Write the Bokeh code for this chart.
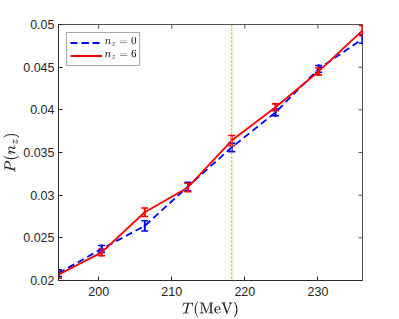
import math
from bokeh.plotting import figure
from bokeh.models import (ColumnDataSource, Whisker, TeeHead, Span, Range1d, FixedTicker,
                          Legend, LegendItem, Label, TeX)
from bokeh.embed import file_html
from bokeh.resources import INLINE

# ---- data ----
T = [194.5, 200.4, 206.3, 212.2, 218.2, 224.2, 230.1, 236.1]
P_n0 = [0.02085, 0.0237, 0.0264, 0.0310, 0.0356, 0.0397, 0.0448, 0.0483]
E_n0 = [0.0004, 0.0004, 0.0006, 0.0005, 0.0005, 0.0004, 0.0004, 0.0005]
P_n6 = [0.02067, 0.0233, 0.0280, 0.0309, 0.0364, 0.0403, 0.0445, 0.0493]
E_n6 = [0.0004, 0.0004, 0.0005, 0.0005, 0.0006, 0.0004, 0.0004, 0.0006]
T_mark = 218.2
x_ticks = [200, 210, 220, 230]
y_ticks = [0.02, 0.025, 0.03, 0.035, 0.04, 0.045, 0.05]
y_tick_labels = ["0.02", "0.025", "0.03", "0.035", "0.04", "0.045", "0.05"]
x_range = (194.5, 236.1)
y_range = (0.02, 0.05)
legend_labels = [r"n_z=0", r"n_z=6"]

BLUE = "#0000FF"
RED = "#FF0000"
AX = "#262626"
FW, FH = 304, 256
TICK = 4

p = figure(frame_width=FW, frame_height=FH, output_backend="svg", toolbar_location=None,
           x_range=Range1d(*x_range), y_range=Range1d(*y_range),
           min_border_left=49, min_border_right=30, min_border_top=24, min_border_bottom=31)
p.background_fill_color = "white"
p.border_fill_color = "white"
p.grid.visible = False
p.outline_line_color = AX
p.outline_line_width = 0.8

for ax in (p.xaxis, p.yaxis):
    ax.axis_line_color = AX
    ax.axis_line_width = 0.8
    ax.major_tick_line_color = AX
    ax.major_tick_in = TICK
    ax.major_tick_out = 0
    ax.minor_tick_line_color = None
    ax.major_label_text_font = "Liberation Sans"
    ax.major_label_text_font_size = "12.5px"
    ax.major_label_text_color = AX
    ax.axis_label_text_font_size = "12px"
    ax.axis_label_text_color = AX
    ax.axis_label_text_font_style = "normal"

p.xaxis.ticker = FixedTicker(ticks=x_ticks)
p.yaxis.ticker = FixedTicker(ticks=y_ticks)
p.yaxis.major_label_overrides = {t: s for t, s in zip(y_ticks, y_tick_labels)}
p.xaxis.major_label_standoff = 6
p.yaxis.major_label_standoff = 4
p.xaxis.axis_label_standoff = 3
p.yaxis.axis_label_standoff = 1
p.xaxis.axis_label = TeX(text=r"T(\mathrm{MeV})")
p.yaxis.axis_label = TeX(text=r"P(n_z)")

# box ticks on top and right edges
dx = TICK * (x_range[1] - x_range[0]) / FW
dy = TICK * (y_range[1] - y_range[0]) / FH
p.segment(x0=x_ticks, x1=x_ticks, y0=[y_range[1]] * len(x_ticks),
          y1=[y_range[1] - dy] * len(x_ticks), line_color=AX, line_width=0.8)
p.segment(x0=[x_range[1]] * len(y_ticks), x1=[x_range[1] - dx] * len(y_ticks),
          y0=y_ticks, y1=y_ticks, line_color=AX, line_width=0.8)

src0 = ColumnDataSource(dict(x=T, y=P_n0, lo=[v - e for v, e in zip(P_n0, E_n0)],
                             hi=[v + e for v, e in zip(P_n0, E_n0)]))
src6 = ColumnDataSource(dict(x=T, y=P_n6, lo=[v - e for v, e in zip(P_n6, E_n6)],
                             hi=[v + e for v, e in zip(P_n6, E_n6)]))

l0 = p.line("x", "y", source=src0, line_color=BLUE, line_width=1.8, line_dash="7 4")
s0 = p.scatter("x", "y", source=src0, marker="dash", angle=math.pi / 2, size=9,
               line_color=BLUE, line_width=1.8)
w0 = Whisker(base="x", upper="hi", lower="lo", source=src0, dimension="height",
             line_color=BLUE, line_width=1.6,
             upper_head=TeeHead(size=7, line_color=BLUE, line_width=1.6),
             lower_head=TeeHead(size=7, line_color=BLUE, line_width=1.6))
p.add_layout(w0)

l6 = p.line("x", "y", source=src6, line_color=RED, line_width=1.8)
s6 = p.scatter("x", "y", source=src6, marker="dash", angle=math.pi / 2, size=9,
               line_color=RED, line_width=1.8)
w6 = Whisker(base="x", upper="hi", lower="lo", source=src6, dimension="height",
             line_color=RED, line_width=1.6,
             upper_head=TeeHead(size=7, line_color=RED, line_width=1.6),
             lower_head=TeeHead(size=7, line_color=RED, line_width=1.6))
p.add_layout(w6)

p.add_layout(Span(location=T_mark, dimension="height", line_color="#FFA500",
                  line_width=1.4, line_dash="2 2"))

legend = Legend(items=[LegendItem(label=" ", renderers=[l0, s0]),
                       LegendItem(label=" ", renderers=[l6, s6])],
                location="top_left", margin=8, padding=3, spacing=0,
                glyph_width=32, glyph_height=13, label_height=13, label_width=31,
                label_standoff=3, border_line_color="#555555", border_line_width=0.8,
                background_fill_alpha=0.0)
p.add_layout(legend)

for i, txt in enumerate(legend_labels):
    p.add_layout(Label(x=46, y=FH - 17.5 - 13 * i, x_units="screen", y_units="screen",
                       text=TeX(text=txt), text_font_size="9.8px", text_color=AX,
                       text_baseline="middle", text_align="left", level="overlay"))

open("out.html", "w").write(file_html(p, INLINE))
